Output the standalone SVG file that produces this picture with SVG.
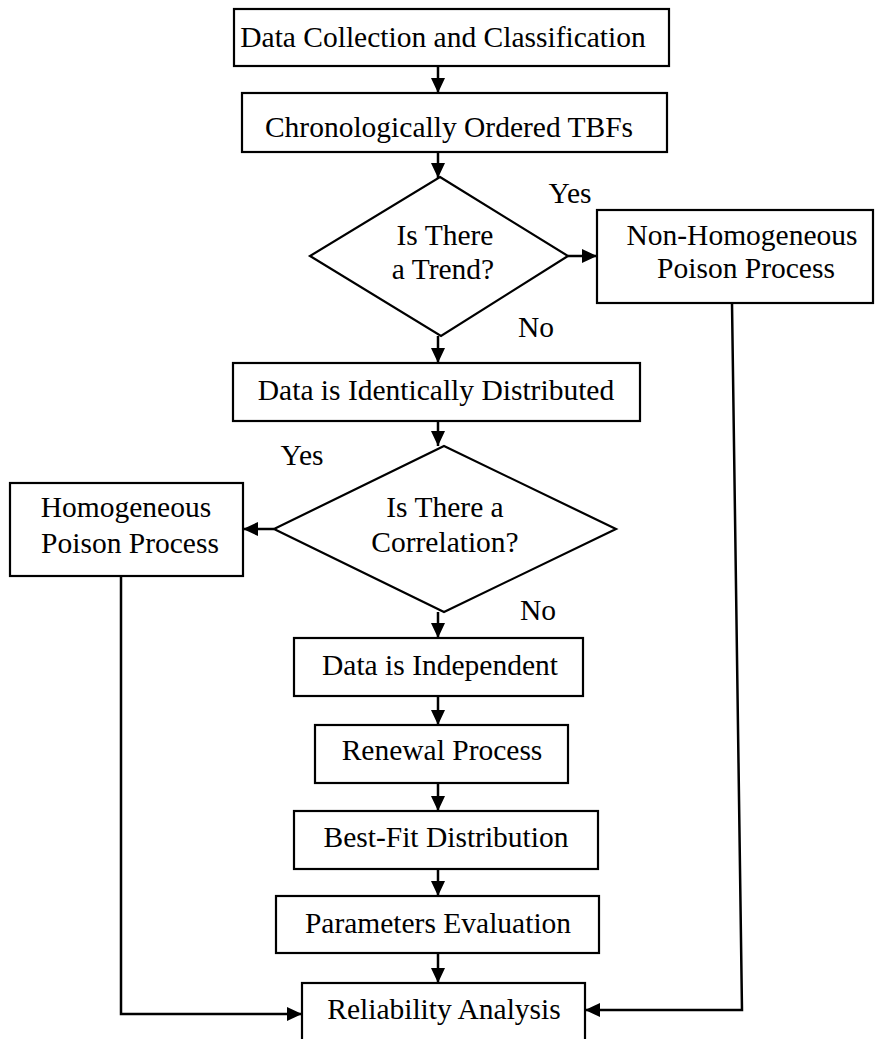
<svg xmlns="http://www.w3.org/2000/svg" width="875" height="1039" viewBox="0 0 875 1039">
<style>
.box{fill:#fff;stroke:#000;stroke-width:2.2}
.t{font-family:"Liberation Serif","Times New Roman",serif;font-size:29.5px;fill:#000;text-anchor:middle}
.c{fill:none;stroke:#000;stroke-width:2.5}
</style>
<defs>
<marker id="ah" markerUnits="userSpaceOnUse" markerWidth="15" markerHeight="14" refX="15" refY="7" orient="auto">
<path d="M0,0 L15,7 L0,14 z" fill="#000"/>
</marker>
</defs>
<rect width="875" height="1039" fill="#fff"/>
<g id="connectors">
<line class="c" x1="438" y1="66" x2="438" y2="93" marker-end="url(#ah)"/>
<line class="c" x1="438" y1="152" x2="438" y2="178" marker-end="url(#ah)"/>
<line class="c" x1="568" y1="256" x2="597" y2="256" marker-end="url(#ah)"/>
<line class="c" x1="438" y1="336" x2="438" y2="363" marker-end="url(#ah)"/>
<line class="c" x1="438" y1="421" x2="438" y2="446" marker-end="url(#ah)"/>
<line class="c" x1="274" y1="529" x2="243" y2="529" marker-end="url(#ah)"/>
<line class="c" x1="438" y1="612" x2="438" y2="638" marker-end="url(#ah)"/>
<line class="c" x1="438" y1="696" x2="438" y2="725" marker-end="url(#ah)"/>
<line class="c" x1="438" y1="783" x2="438" y2="811" marker-end="url(#ah)"/>
<line class="c" x1="438" y1="869" x2="438" y2="896" marker-end="url(#ah)"/>
<line class="c" x1="438" y1="953" x2="438" y2="983" marker-end="url(#ah)"/>
<polyline class="c" points="121,576 121,1014 302,1014" marker-end="url(#ah)"/>
<polyline class="c" points="732,303 742,1010 585,1010" marker-end="url(#ah)"/>
</g>
<g id="n1"><rect class="box" x="234" y="9" width="435" height="57"/><text class="t" x="443" y="47">Data Collection and Classification</text></g>
<g id="n2"><rect class="box" x="242" y="93" width="425" height="59"/><text class="t" x="449" y="137">Chronologically Ordered TBFs</text></g>
<g id="d1"><polygon class="box" points="440,177 568,256 441,336 310,256"/><text class="t" x="445" y="245">Is There</text><text class="t" x="443" y="279">a Trend?</text></g>
<g id="n3"><rect class="box" x="597" y="210" width="276" height="93"/><text class="t" x="742" y="245">Non-Homogeneous</text><text class="t" x="746" y="278">Poison Process</text></g>
<g id="l1"><text class="t" x="570" y="203">Yes</text></g>
<g id="l2"><text class="t" x="536" y="337">No</text></g>
<g id="n4"><rect class="box" x="233" y="363" width="407" height="58"/><text class="t" x="436" y="400">Data is Identically Distributed</text></g>
<g id="d2"><polygon class="box" points="444,446 616,529 444,612 274,529"/><text class="t" x="445" y="517">Is There a</text><text class="t" x="445" y="552">Correlation?</text></g>
<g id="l3"><text class="t" x="302" y="465">Yes</text></g>
<g id="l4"><text class="t" x="538" y="620">No</text></g>
<g id="n5"><rect class="box" x="10" y="483" width="233" height="93"/><text class="t" x="126" y="517">Homogeneous</text><text class="t" x="130" y="553">Poison Process</text></g>
<g id="n6"><rect class="box" x="294" y="638" width="289" height="58"/><text class="t" x="440" y="675">Data is Independent</text></g>
<g id="n7"><rect class="box" x="315" y="725" width="253" height="58"/><text class="t" x="442" y="760">Renewal Process</text></g>
<g id="n8"><rect class="box" x="294" y="811" width="304" height="58"/><text class="t" x="446" y="847">Best-Fit Distribution</text></g>
<g id="n9"><rect class="box" x="276" y="896" width="323" height="57"/><text class="t" x="438" y="933">Parameters Evaluation</text></g>
<g id="n10"><rect class="box" x="302" y="983" width="283" height="70"/><text class="t" x="444" y="1019">Reliability Analysis</text></g>
</svg>
